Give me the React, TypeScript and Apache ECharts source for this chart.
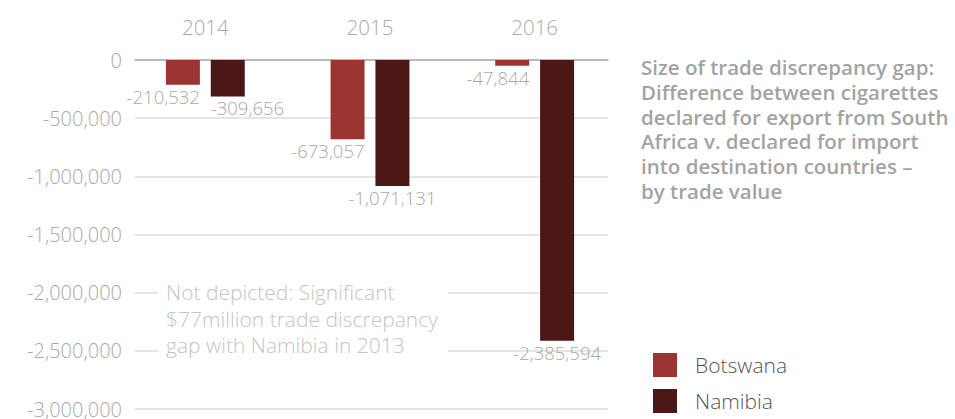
import React, { useEffect, useRef } from "react";
import * as echarts from "echarts";

const years = ["2014", "2015", "2016"];
const botswana = [-210532, -673057, -47844];
const namibia = [-309656, -1071131, -2385594];
const titleLines = [
  "Size of trade discrepancy gap:",
  "Difference between cigarettes",
  "declared for export from South",
  "Africa v. declared for import",
  "into destination countries –",
  "by trade value",
];
const noteLines = [
  "Not depicted: Significant",
  "$77million trade discrepancy",
  "gap with Namibia in 2013",
];

const fmt = (v: number) => v.toLocaleString("en-US");
const FONT = "'Open Sans', Lato, sans-serif";
const LIGHT = 300;

export default function App() {
  const ref = useRef<HTMLDivElement>(null);
  useEffect(() => {
    if (!ref.current) return;
    const chart = echarts.init(ref.current, null, { renderer: "svg" });
    const bLabelAlign = ["right", "right", "right"];
    const nLabelAlign = ["left", "center", "center"];
    const mkData = (vals: number[], aligns: string[]) =>
      vals.map((v, i) => ({
        value: v,
        label: {
          align: aligns[i],
          offset: [aligns[i] === "right" ? 17 : aligns[i] === "left" ? -17 : 0, 0],
        },
      }));
    const barLabel = {
      show: true,
      position: "bottom",
      distance: 2,
      color: "#a9a9a9",
      fontSize: 18.5,
      fontWeight: LIGHT,
      fontFamily: FONT,
      formatter: (p: any) => fmt(p.value),
    };
    chart.setOption({
      animation: false,
      textStyle: { fontFamily: FONT },
      grid: [
        { left: 135, width: 473, top: 60, height: 353 },
        { left: 123, width: 494, top: 60, height: 353 },
      ],
      xAxis: [
        {
          gridIndex: 0,
          type: "category",
          position: "top",
          data: years,
          axisLine: { show: true, lineStyle: { color: "#a9aaad", width: 1.5 } },
          axisTick: { show: false },
          axisLabel: { show: false },
          splitLine: { show: false },
        },
        {
          gridIndex: 1,
          type: "category",
          position: "top",
          data: years,
          axisLine: { show: false },
          axisTick: { show: false },
          axisLabel: {
            show: true,
            color: "#a9a9a9",
            fontSize: 20.5,
            fontWeight: LIGHT,
            margin: 23,
            fontFamily: FONT,
          },
        },
      ],
      yAxis: [
        {
          gridIndex: 0,
          type: "value",
          min: -3000000,
          max: 0,
          interval: 500000,
          axisLine: { show: false },
          axisTick: { show: false },
          axisLabel: {
            color: "#a9a9a9",
            fontSize: 20,
            fontWeight: LIGHT,
            margin: 13,
            fontFamily: FONT,
            formatter: (v: number) => fmt(v),
          },
          splitLine: { show: true, lineStyle: { color: "#dcdcdc", width: 1.5 } },
        },
        {
          gridIndex: 1,
          type: "value",
          min: -3000000,
          max: 0,
          interval: 500000,
          show: false,
          splitLine: { show: false },
        },
      ],
      legend: {
        orient: "vertical",
        left: 653,
        top: 353,
        padding: 0,
        itemWidth: 24,
        itemHeight: 24,
        itemGap: 12,
        icon: "rect",
        textStyle: {
          color: "#555555",
          fontSize: 21,
          fontWeight: LIGHT,
          fontFamily: FONT,
          padding: [0, 0, 0, 13],
        },
        data: ["Botswana", "Namibia"],
      },
      series: [
        {
          name: "Botswana",
          type: "bar",
          xAxisIndex: 1,
          yAxisIndex: 1,
          barWidth: 34,
          barGap: "32%",
          itemStyle: { color: "#9c3532" },
          label: barLabel,
          data: mkData(botswana, bLabelAlign),
        },
        {
          name: "Namibia",
          type: "bar",
          xAxisIndex: 1,
          yAxisIndex: 1,
          barWidth: 34,
          barGap: "32%",
          itemStyle: { color: "#4b1715" },
          label: barLabel,
          data: mkData(namibia, nLabelAlign),
        },
      ],
      graphic: [
        {
          type: "rect",
          shape: { x: 158, y: 278, width: 290, height: 84 },
          style: { fill: "#ffffff" },
          z: 10,
        },
        {
          type: "text",
          x: 166,
          y: 278.75,
          z: 11,
          style: {
            text: noteLines.join("\n"),
            fill: "#c4c4c4",
            fontSize: 21,
            lineHeight: 26.5,
            fontWeight: LIGHT,
            fontFamily: FONT,
            verticalAlign: "top",
          },
        },
        {
          type: "text",
          x: 641,
          y: 54.6,
          z: 11,
          style: {
            text: titleLines.join("\n"),
            fill: "#a3a3a3",
            fontSize: 20.5,
            lineHeight: 24.8,
            fontWeight: 600,
            fontFamily: FONT,
            verticalAlign: "top",
          },
        },
      ],
    });
    return () => chart.dispose();
  }, []);
  return <div ref={ref} style={{ width: 955, height: 419, position: "absolute", left: 0, top: 0 }} />;
}
